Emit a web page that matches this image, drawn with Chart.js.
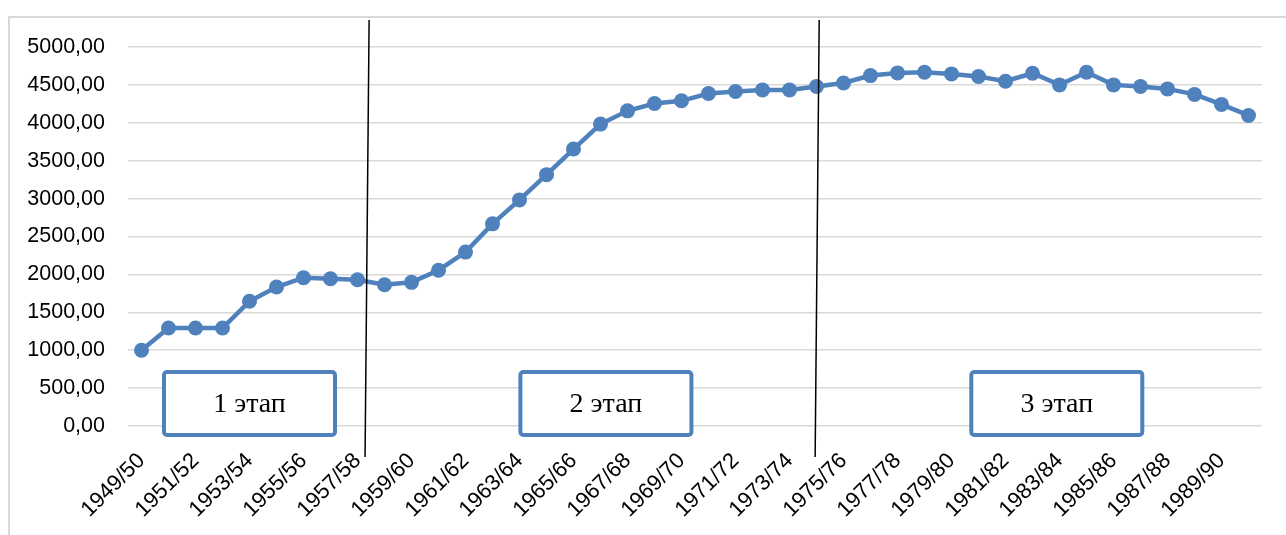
<!DOCTYPE html>
<html>
<head>
<meta charset="utf-8">
<script src="https://cdn.jsdelivr.net/npm/chart.js@4.4.1/dist/chart.umd.min.js"></script>
<style>
  body { margin: 0; background: #fff; overflow: hidden; }
  #frame { position: absolute; left: 8px; top: 16px; width: 1400px; height: 700px;
           border-top: 2px solid #d9d9d9; border-left: 2px solid #d9d9d9; }
  #wrap { position: absolute; left: 0; top: 0; width: 1286px; height: 535px; }
</style>
</head>
<body>
<div id="frame"></div>
<div id="wrap"><canvas id="stagesChart"></canvas></div>
<script>
// school years on the x axis
const years = [
  '1949/50', '1950/51', '1951/52', '1952/53', '1953/54', '1954/55', '1955/56',
  '1956/57', '1957/58', '1958/59', '1959/60', '1960/61', '1961/62', '1962/63',
  '1963/64', '1964/65', '1965/66', '1966/67', '1967/68', '1968/69', '1969/70',
  '1970/71', '1971/72', '1972/73', '1973/74', '1974/75', '1975/76', '1976/77',
  '1977/78', '1978/79', '1979/80', '1980/81', '1981/82', '1982/83', '1983/84',
  '1984/85', '1985/86', '1986/87', '1987/88', '1988/89', '1989/90', '1990/91'
];

// values
const values = [
  1000, 1293, 1293, 1293, 1645, 1833, 1956, 1943, 1930, 1864, 1895, 2055,
  2294, 2667, 2983, 3316, 3654, 3983, 4158, 4254, 4290, 4386, 4412, 4434,
  4434, 4478, 4526, 4623, 4658, 4667, 4645, 4610, 4548, 4654, 4500, 4667,
  4500, 4478, 4447, 4375, 4243, 4097
];

const yTicks = [0, 500, 1000, 1500, 2000, 2500, 3000, 3500, 4000, 4500, 5000];
const stageNames = ['1 этап', '2 этап', '3 этап'];

// where the stage boxes and divider lines sit (category index units)
const stageCenters = [4.0, 17.2, 33.9];
const dividerLines = [[8.43, 8.28], [25.1, 24.95]];

const blue = '#4f81bd';

const stagesPlugin = {
  id: 'stages',
  afterDatasetsDraw(chart) {
    const { ctx, chartArea } = chart;
    const x = chart.scales.x, y = chart.scales.y;
    const base = y.getPixelForValue(0);
    ctx.save();

    // black divider lines between the stages
    ctx.strokeStyle = '#000';
    ctx.lineWidth = 1.5;
    dividerLines.forEach(d => {
      ctx.beginPath();
      ctx.moveTo(x.getPixelForValue(d[0]), chartArea.top - 27);
      ctx.lineTo(x.getPixelForValue(d[1]), base + 31);
      ctx.stroke();
    });

    // stage boxes
    ctx.font = '28px "Liberation Serif", "Times New Roman", serif';
    ctx.textAlign = 'center';
    ctx.textBaseline = 'middle';
    stageNames.forEach((name, i) => {
      const cx = x.getPixelForValue(stageCenters[i]);
      const w = 171, top = base - 54, h = 63;
      ctx.beginPath();
      ctx.roundRect(cx - w / 2, top, w, h, 3);
      ctx.fillStyle = '#fff';
      ctx.fill();
      ctx.lineWidth = 4;
      ctx.strokeStyle = blue;
      ctx.stroke();
      ctx.fillStyle = '#000';
      ctx.fillText(name, cx, top + h / 2 + 1);
    });
    ctx.restore();
  }
};

const ctx = document.getElementById('stagesChart').getContext('2d');
new Chart(ctx, {
  type: 'line',
  data: {
    labels: years,
    datasets: [{
      data: values,
      borderColor: blue,
      backgroundColor: blue,
      borderWidth: 4.5,
      pointRadius: 7.5,
      pointHoverRadius: 7.5,
      pointBackgroundColor: blue,
      pointBorderWidth: 0,
      tension: 0
    }]
  },
  options: {
    responsive: true,
    maintainAspectRatio: false,
    animation: false,
    layout: { padding: { top: 47, right: 24, left: 0, bottom: 0 } },
    plugins: { legend: { display: false }, tooltip: { enabled: false } },
    scales: {
      x: {
        offset: true,
        grid: { display: false },
        border: { display: false },
        afterFit: s => { s.height = 109; },
        ticks: {
          autoSkip: false,
          minRotation: 45,
          maxRotation: 45,
          padding: 14,
          color: '#000',
          font: { family: '"Liberation Sans", Arial, sans-serif', size: 22 },
          callback: (v, i) => (i % 2 === 0 ? years[i] : '')
        }
      },
      y: {
        min: 0,
        max: 5000,
        afterFit: s => { s.width = 128; },
        afterBuildTicks: s => { s.ticks = yTicks.map(v => ({ value: v })); },
        grid: { color: '#d9d9d9', lineWidth: 1.5, drawTicks: false },
        border: { display: false },
        ticks: {
          padding: 23,
          color: '#000',
          font: { family: '"Liberation Sans", Arial, sans-serif', size: 21.5 },
          callback: v => v.toFixed(2).replace('.', ',')
        }
      }
    }
  },
  plugins: [stagesPlugin]
});
</script>
</body>
</html>
